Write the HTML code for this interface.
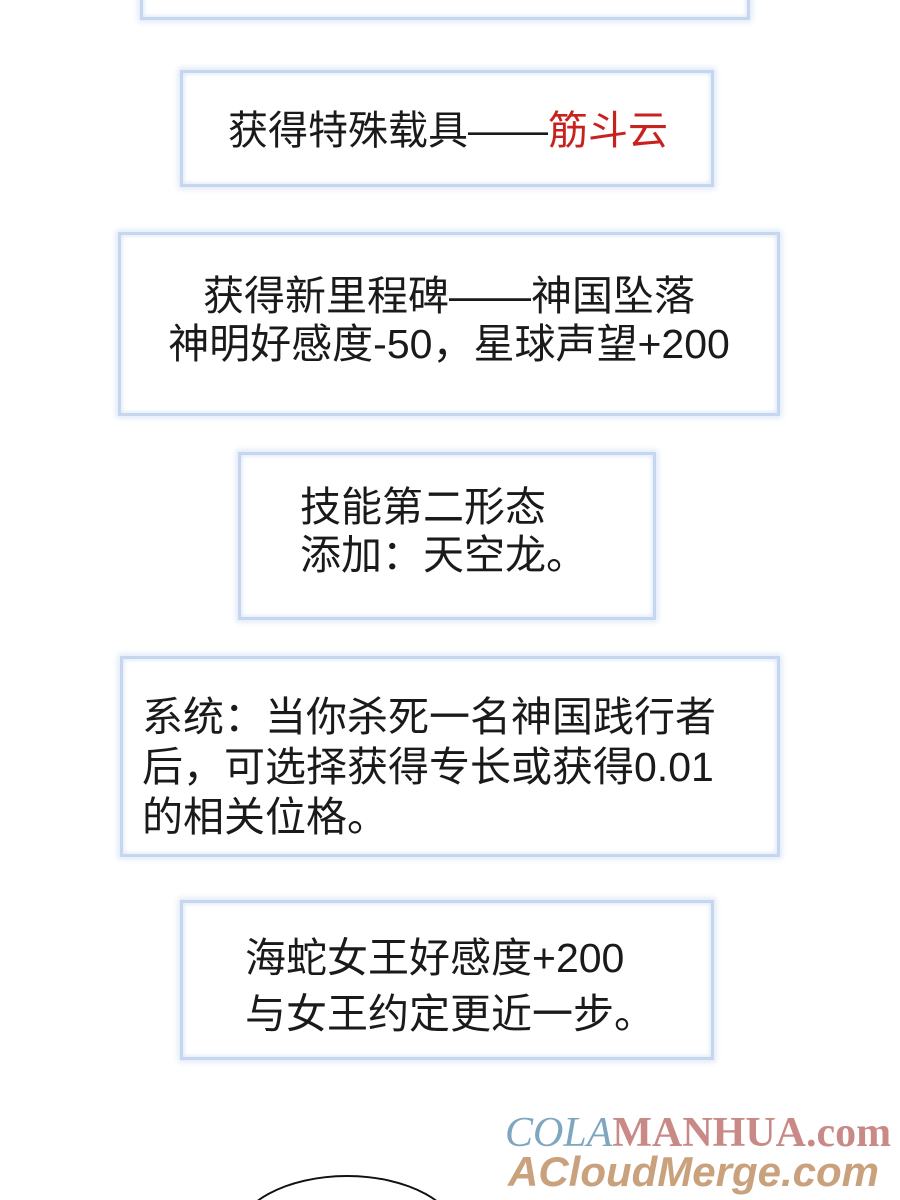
<!DOCTYPE html>
<html style="overflow:hidden;height:1200px"><head><meta charset="utf-8"><style>
body{margin:0;width:900px;height:1200px;background:#fff;position:relative;overflow:hidden;font-family:"Liberation Sans","Noto Sans CJK SC",sans-serif;color:#1a1a1a}
.b{position:absolute;box-sizing:border-box;border:3px solid #c5d6ee;box-shadow:0 0 6px 2px #dde8f7, inset 0 0 5px 1px #dde8f7;background:#fff}
.t{position:absolute;font-size:41px;line-height:48px;white-space:nowrap}
</style></head><body>
<div class="b" style="left:140px;top:-20px;width:610px;height:40px"></div>
<div class="b" style="left:180px;top:70px;width:534px;height:117px"></div>
<div class="t" style="left:228px;top:107px;font-size:40px">获得特殊载具——<span style="color:#c8221e">筋斗云</span></div>
<div class="b" style="left:118px;top:232px;width:662px;height:184px"></div>
<div class="t" style="left:118px;width:662px;text-align:center;top:272px">获得新里程碑——神国坠落<br>神明好感度-50，星球声望+200</div>
<div class="b" style="left:238px;top:452px;width:418px;height:168px"></div>
<div class="t" style="left:300px;top:483px">技能第二形态<br>添加：天空龙。</div>
<div class="b" style="left:120px;top:656px;width:660px;height:201px"></div>
<div class="t" style="left:142px;top:692px;line-height:50px">系统：当你杀死一名神国践行者<br>后，可选择获得专长或获得0.01<br>的相关位格。</div>
<div class="b" style="left:180px;top:900px;width:534px;height:160px"></div>
<div class="t" style="left:245px;top:930px;line-height:56px">海蛇女王好感度+200<br>与女王约定更近一步。</div>
<div style="position:absolute;left:505px;top:1110px;font-family:'Liberation Serif',serif;font-size:42px;line-height:46px;white-space:nowrap"><span style="color:#7fa6bf;font-style:italic">COLA</span><span style="color:#c98a87;font-weight:bold">MANHUA.com</span></div>
<div style="position:absolute;left:508px;top:1148px;font-family:'Liberation Sans',sans-serif;font-size:42px;line-height:48px;font-weight:bold;font-style:italic;color:#c9a27d;white-space:nowrap">ACloudMerge.com</div>
<div style="position:absolute;left:0;top:1170px;width:900px;height:30px;overflow:hidden"><div style="position:absolute;left:235px;top:5px;width:220px;height:120px;border:2px solid #111;border-radius:50%"></div></div>
</body></html>
